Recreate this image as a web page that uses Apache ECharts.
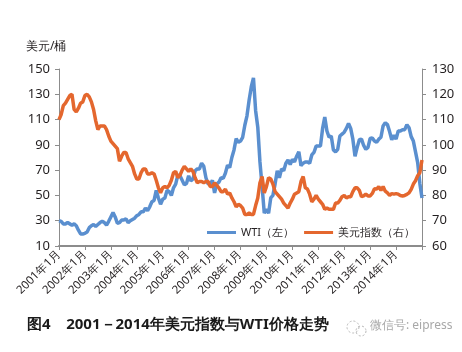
<!DOCTYPE html>
<html>
<head>
<meta charset="UTF-8">
<title>2001-2014年美元指数与WTI价格走势</title>
<script src="https://cdn.jsdelivr.net/npm/echarts@6/dist/echarts.min.js"></script>
<style>
  html, body { margin: 0; padding: 0; background: #fff; }
  #main { width: 462px; height: 352px; }
</style>
</head>
<body>
<div id="main"></div>
<script>
// 月度数据：2001年1月 — 2015年1月
var years = [2001, 2002, 2003, 2004, 2005, 2006, 2007, 2008, 2009, 2010, 2011, 2012, 2013, 2014, 2015];

// WTI 油价（美元/桶，左轴）
var wti = [
  30, 29.5, 27.5, 27.5, 28.5, 27.5, 26.5, 27.5, 26, 22.5, 19.5, 19.5,
  20, 21, 24.5, 26, 27, 25.5, 27, 28.5, 29.5, 28.5, 26.5, 29.5,
  33, 36.5, 33, 28, 28.5, 30.5, 30.5, 31.5, 28.5, 30, 31, 32,
  34, 35, 37, 37, 40, 38, 41, 45, 46, 54, 48, 43,
  47, 48, 54, 53, 50, 56, 59, 66, 65.5, 62, 58.5, 59.5,
  65.5, 61.5, 63, 69.5, 71, 71, 75.5, 73, 64, 59, 59, 62,
  52, 59, 60.5, 64, 63.5, 67.5, 74, 72, 80, 86, 95, 92,
  93, 96, 105.5, 113, 125.5, 136, 143, 117, 104, 76.5, 57, 36,
  39, 36, 48, 50, 59, 69.5, 64, 71, 69.5, 75.5, 78, 74.5,
  78.5, 76.5, 81, 84.5, 73.5, 75.5, 76.5, 76.5, 75.5, 82, 84, 89,
  89, 89, 103, 112, 101, 96, 97, 86, 84.5, 86.5, 97, 98.5,
  100, 103, 107, 103, 94.5, 81, 88, 94, 94.5, 89.5, 86.5, 88,
  95, 95.5, 93, 92, 94.5, 96, 105, 107.5, 106, 100.5, 94, 97.5,
  94.5, 101, 101, 102, 102, 106, 103.5, 96.5, 93, 84.5, 76, 59.5,
  48
];

// 美元指数（右轴）
var usdx = [
  110, 112, 115.5, 116.5, 118, 119.5, 120, 114, 113, 114.5, 116.5, 117,
  119.5, 120, 119, 117, 114, 109.5, 106, 107.5, 107.5, 107.5, 106, 103.5,
  101.5, 100.5, 99.5, 98.5, 93.5, 95.5, 97, 97, 94.5, 93, 91.5, 88.5,
  86.5, 86.5, 89, 90.5, 90.5, 88.5, 88.5, 89, 88.5, 86, 83, 81,
  83, 83.5, 83, 84, 86, 89, 89.5, 87, 88, 90, 91.5, 90.5,
  89.5, 90.5, 89.5, 87, 85, 85.5, 85.5, 85, 85.5, 85.5, 83.5, 83.5,
  85, 84, 83, 81.5, 81.5, 82.5, 80.5, 81, 79, 77.5, 75.5, 76.5,
  76, 75, 72.5, 72.5, 73, 72.5, 72.5, 76, 79, 85, 87.5, 81,
  83.5, 87, 86.5, 84.5, 81.5, 80.5, 79.5, 78.5, 77, 76, 75, 77,
  78.5, 80.5, 81, 81.5, 85.5, 87.5, 83, 82.5, 80.5, 77.5, 78.5, 80,
  78.5, 77.5, 76.5, 74.5, 75, 74.5, 74.5, 74.5, 77, 77, 78, 79.5,
  80, 79, 79.5, 79.5, 81.5, 83, 83, 82, 79.5, 79.8, 80.5, 79.8,
  79.8, 80.8, 82.6, 82.5, 83.5, 82, 83.5, 81.7, 81, 80, 80.7, 80.5,
  80.7, 80.5, 80, 79.8, 80, 80.4, 81, 82.4, 84.5, 85.8, 87.8, 89,
  94
];

var leftTicks = { min: 10, max: 150, interval: 20 };
var rightTicks = { min: 60, max: 130, interval: 10 };

var months = [];
for (var i = 0; i < wti.length; i++) {
  months.push(years[Math.floor(i / 12)] + '年' + (i % 12 + 1) + '月');
}

var myChart = echarts.init(document.getElementById('main'));
var txt = '#231f20';
var axisGrey = '#8c8c8c';
var font = 'Noto Sans, sans-serif';

var option = {
  animation: false,
  textStyle: { fontFamily: font },
  grid: { left: 59, right: 40, top: 69, bottom: 106 },
  legend: {
    left: 207, top: 227, padding: 0,
    itemWidth: 29, itemHeight: 3, itemGap: 10,
    icon: 'rect',
    textStyle: { color: txt, fontSize: 11, fontFamily: font },
    data: ['WTI（左）', '美元指数（右）']
  },
  xAxis: {
    type: 'category',
    boundaryGap: false,
    data: months,
    axisLine: { lineStyle: { color: axisGrey, width: 2 } },
    axisTick: {
      length: 4, lineStyle: { color: axisGrey },
      interval: function (idx) { return idx % 12 === 0; }
    },
    axisLabel: {
      rotate: 45, margin: 6, color: txt, fontSize: 11.5,
      interval: function (idx) { return idx % 12 === 0 && idx < months.length - 1; }
    },
    splitLine: { show: false }
  },
  yAxis: [
    {
      type: 'value', position: 'left',
      min: leftTicks.min, max: leftTicks.max, interval: leftTicks.interval,
      axisLine: { show: true, lineStyle: { color: axisGrey } },
      axisTick: { show: true, length: 4, lineStyle: { color: axisGrey } },
      axisLabel: { color: txt, fontSize: 13, margin: 9 },
      splitLine: { show: false }
    },
    {
      type: 'value', position: 'right',
      min: rightTicks.min, max: rightTicks.max, interval: rightTicks.interval,
      axisLine: { show: true, lineStyle: { color: axisGrey } },
      axisTick: { show: true, length: 4, lineStyle: { color: axisGrey } },
      axisLabel: { color: txt, fontSize: 13, margin: 10 },
      splitLine: { show: false }
    }
  ],
  series: [
    {
      name: 'WTI（左）', type: 'line', yAxisIndex: 0,
      data: wti, showSymbol: false,
      lineStyle: { color: '#5a8fcf', width: 3.5 },
      itemStyle: { color: '#5a8fcf' }
    },
    {
      name: '美元指数（右）', type: 'line', yAxisIndex: 1,
      data: usdx, showSymbol: false,
      lineStyle: { color: '#e4672e', width: 3.5 },
      itemStyle: { color: '#e4672e' }
    }
  ],
  graphic: [
    {
      type: 'text', left: 26, top: 41,
      style: { text: '美元/桶', fill: txt, font: '12px ' + font }
    },
    {
      type: 'text', left: 27, top: 317,
      style: { text: '图4    2001－2014年美元指数与WTI价格走势', fill: '#1a1a1a', font: 'bold 15px ' + font }
    },
    {
      type: 'circle', shape: { cx: 353, cy: 327, r: 6 },
      style: { fill: 'none', stroke: '#b5b5b5', lineWidth: 1, lineDash: [2, 2] }
    },
    {
      type: 'circle', shape: { cx: 361, cy: 331, r: 5 },
      style: { fill: 'none', stroke: '#b5b5b5', lineWidth: 1, lineDash: [2, 2] }
    },
    {
      type: 'text', left: 370, top: 320,
      style: { text: '微信号: eipress', fill: '#a8a8a8', font: '12px ' + font }
    }
  ]
};

myChart.setOption(option, true);
</script>
</body>
</html>
